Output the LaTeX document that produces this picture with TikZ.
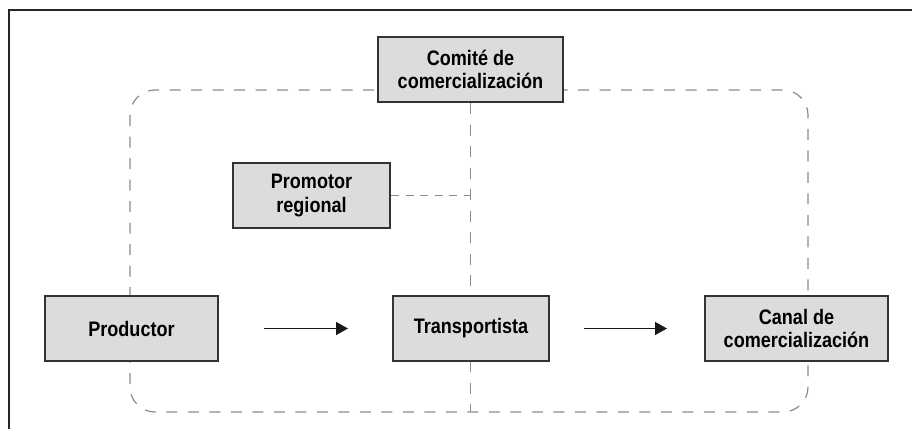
\documentclass[tikz,border=0pt]{standalone}
\usepackage{fontspec}
\setmainfont{Liberation Sans}[FakeStretch=0.86]
\usetikzlibrary{arrows.meta,backgrounds}
\definecolor{boxfill}{HTML}{DCDCDC}
\definecolor{boxline}{HTML}{333333}
\definecolor{dashgray}{HTML}{8C8C8C}
\tikzset{
  unit/.style={x=1pt,y=-1pt},
  actor/.style={draw=boxline, line width=2pt, fill=boxfill, inner sep=0pt,
    minimum height=65pt, align=center,
    font=\fontsize{21}{23.5}\selectfont\bfseries},
  loopline/.style={draw=dashgray, line width=1.2pt, dash pattern=on 11pt off 10.5pt},
  shortdash/.style={draw=dashgray, line width=1.2pt, dash pattern=on 8pt off 6.5pt},
  flow/.style={draw=black!90, line width=1.5pt, -{Triangle[length=12pt,width=13pt]}},
  frameline/.style={draw=black!85, line width=1.6pt}
}
\begin{document}
\begin{tikzpicture}[unit]
\useasboundingbox (0,0) rectangle (912,429);
\draw[frameline] (9,429) -- (9,10) -- (912,10);
\node[actor, minimum width=173pt] (prod) at (131.5,328.5) {Productor};
\node[actor, minimum width=156pt] (trans) at (471,328.5) {Transportista};
\node[actor, minimum width=183pt] (canal) at (796.5,328.5) {Canal de\\comercialización};
\node[actor, minimum width=185pt] (comite) at (470.5,69.5) {Comité de\\comercialización};
\node[actor, minimum width=157pt] (prom) at (311.5,195.5) {Promotor\\regional};
\coordinate (tl) at (130,90);
\coordinate (br) at (808,412);
\begin{scope}[on background layer]
\draw[loopline, rounded corners=25pt] (tl) rectangle (br);
\draw[loopline] (comite.south) -- (comite.south |- br);
\draw[shortdash] (prom.east) -- (prom.east -| comite.south);
\end{scope}
\draw[flow, shorten <=45pt, shorten >=44pt] (prod.east) -- (trans.west);
\draw[flow, shorten <=34pt, shorten >=37pt] (trans.east) -- (canal.west);
\end{tikzpicture}
\end{document}
